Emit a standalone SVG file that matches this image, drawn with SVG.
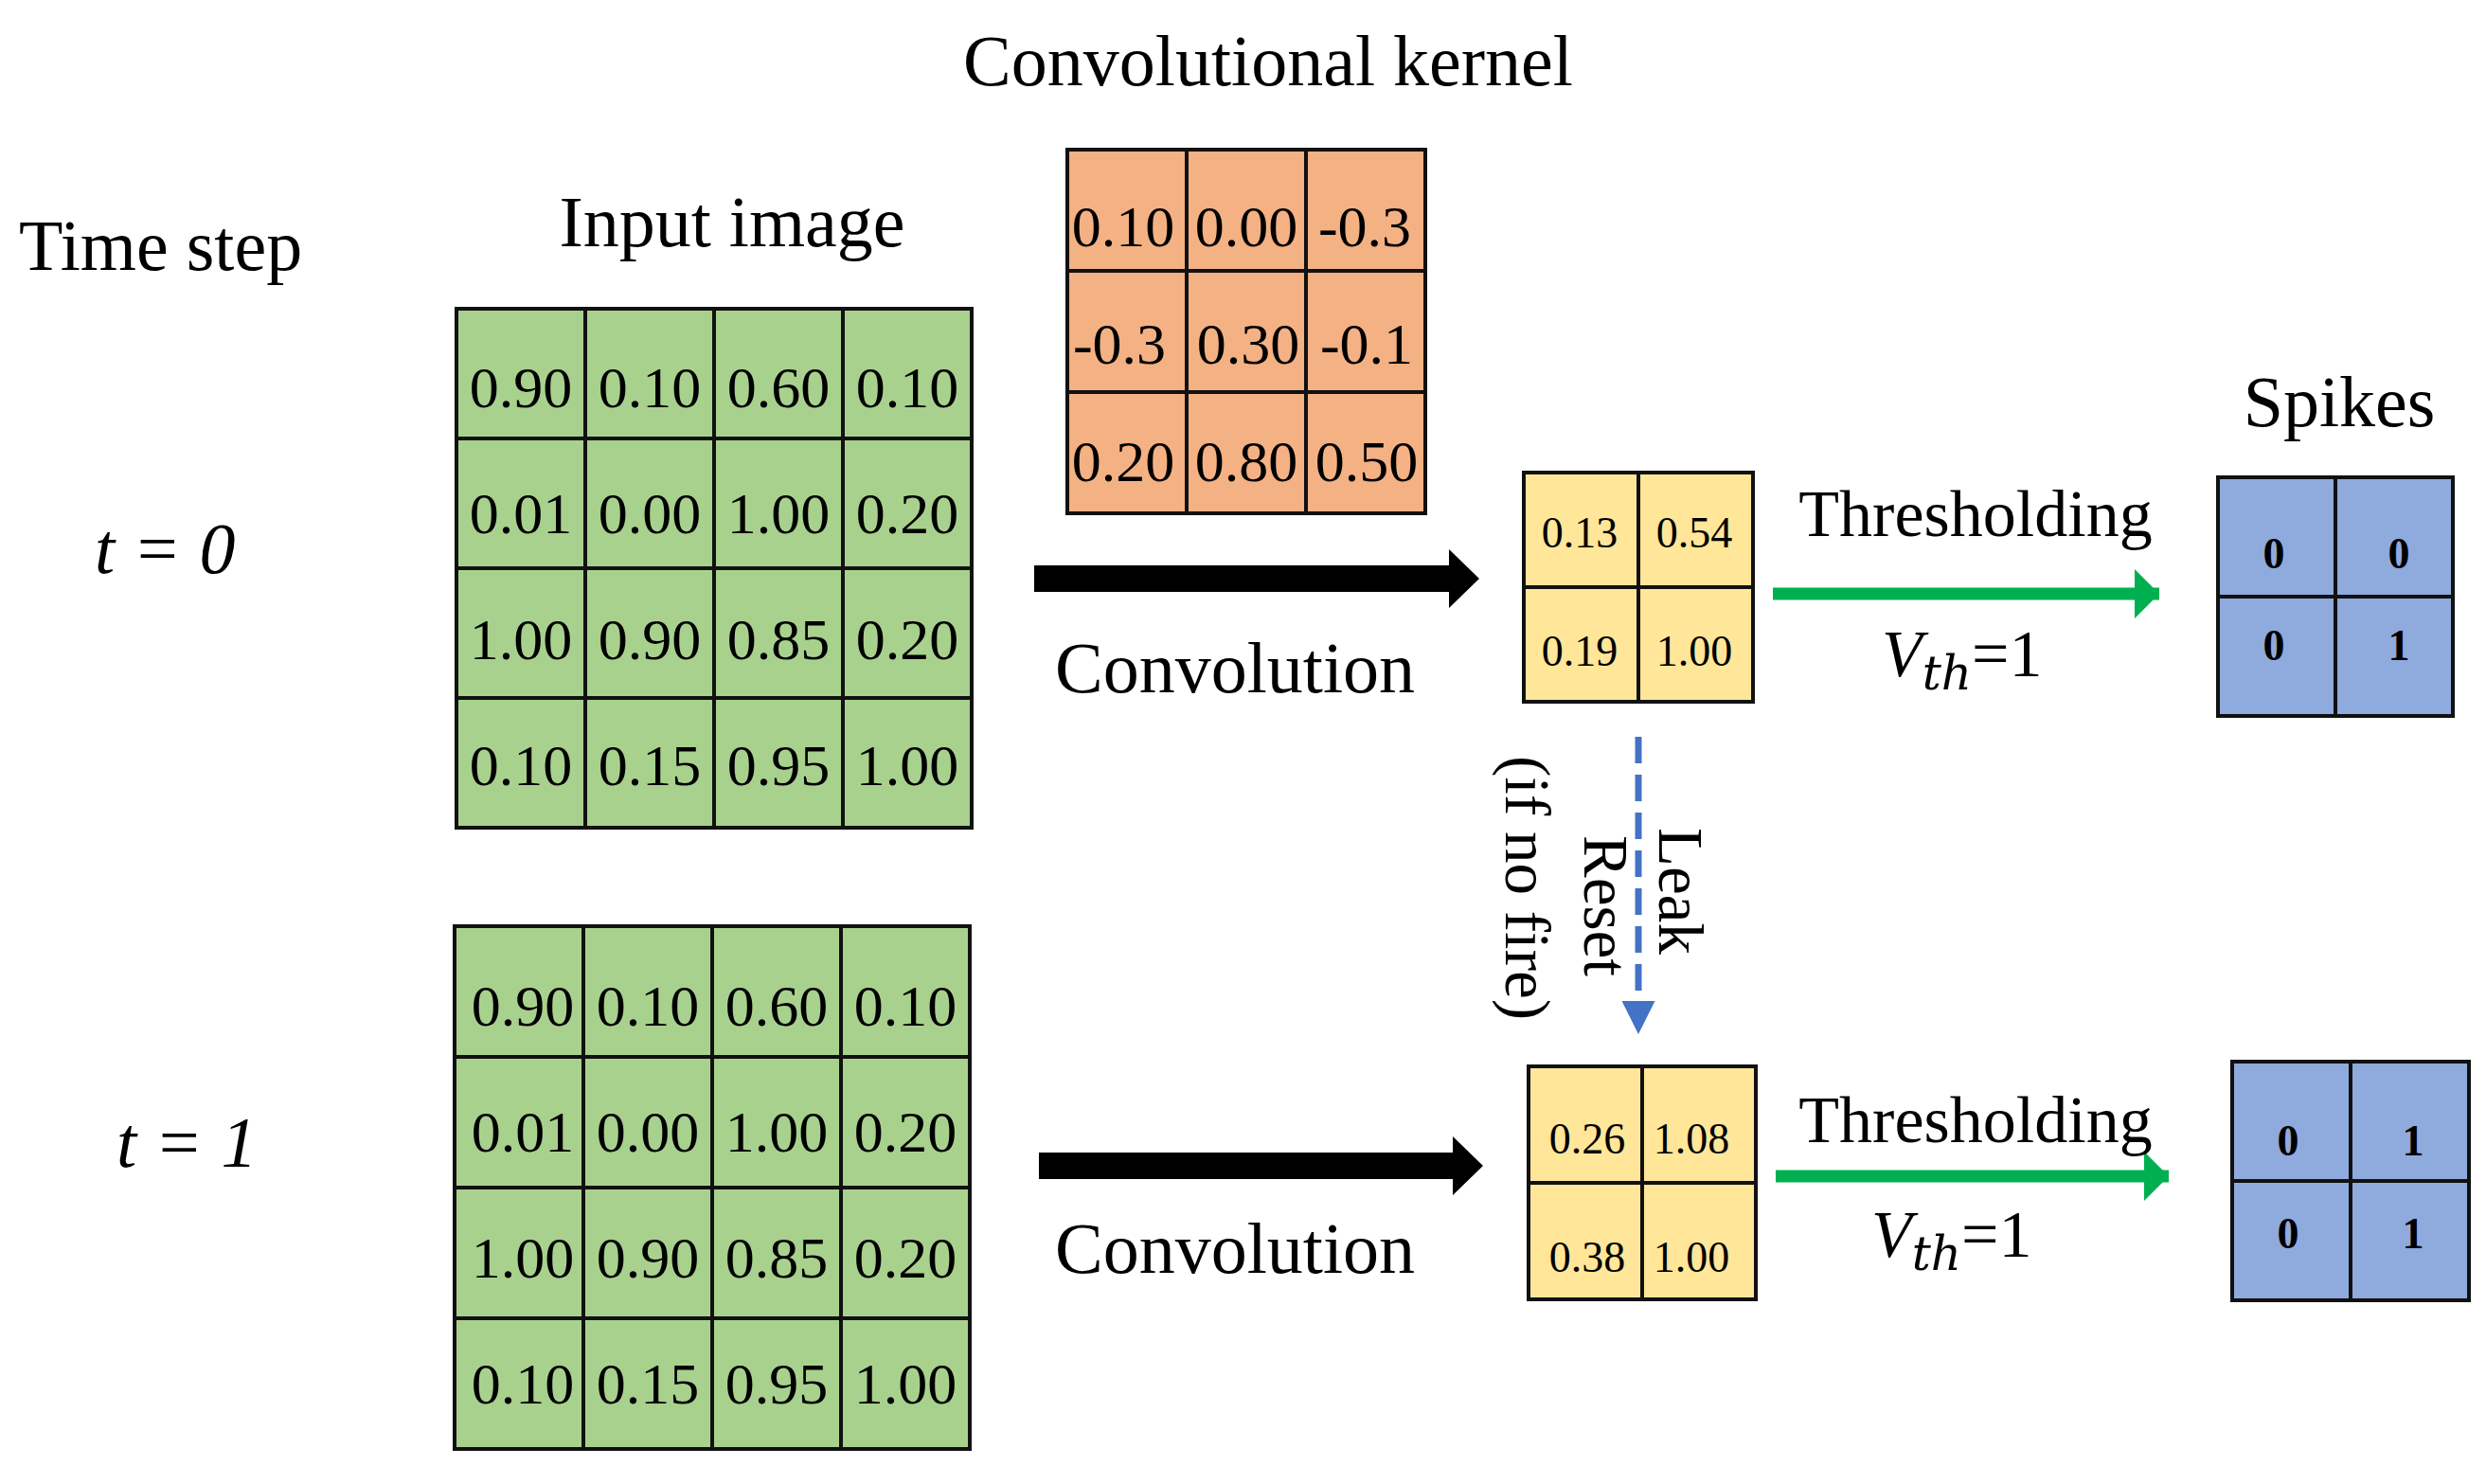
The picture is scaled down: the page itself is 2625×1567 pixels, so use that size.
<svg xmlns="http://www.w3.org/2000/svg" width="2625" height="1567" viewBox="0 0 2625 1567">
<style>
text{font-family:"Liberation Serif","Times New Roman",serif;fill:#000}
.g{fill:#a9d18e;stroke:#111;stroke-width:4}
.o{fill:#f4b183;stroke:#111;stroke-width:4}
.y{fill:#ffe699;stroke:#111;stroke-width:4}
.b{fill:#8faadc;stroke:#111;stroke-width:4}
.n{font-size:62px;text-anchor:middle}
.s{font-size:46px;text-anchor:middle}
.k{font-size:46px;text-anchor:middle;font-weight:bold}
.l{font-size:76px}
</style>
<defs>
<marker id="gh" markerWidth="4" markerHeight="4" refX="2" refY="2" orient="auto" markerUnits="strokeWidth"><path d="M0,0L2,2L0,4z" fill="#00b050"/></marker>
<marker id="bh" markerWidth="5" markerHeight="5" refX="4" refY="2.5" orient="auto" markerUnits="strokeWidth"><path d="M0,0L5,2.5L0,5z" fill="#4472c4"/></marker>
</defs>
<text class="l" x="20" y="285">Time step</text>
<text class="l" x="773" y="260" text-anchor="middle">Input   image</text>
<text class="l" x="1339" y="90" text-anchor="middle">Convolutional kernel</text>
<text class="l" x="2470" y="450" text-anchor="middle">Spikes</text>
<text class="l" x="100" y="605" font-style="italic">t = 0</text>
<text class="l" x="123" y="1232" font-style="italic">t = 1</text>
<g id="input0">
<rect class="g" x="482" y="326" width="136" height="137"/><rect class="g" x="618" y="326" width="136" height="137"/><rect class="g" x="754" y="326" width="136" height="137"/><rect class="g" x="890" y="326" width="136" height="137"/>
<rect class="g" x="482" y="463" width="136" height="137"/><rect class="g" x="618" y="463" width="136" height="137"/><rect class="g" x="754" y="463" width="136" height="137"/><rect class="g" x="890" y="463" width="136" height="137"/>
<rect class="g" x="482" y="600" width="136" height="137"/><rect class="g" x="618" y="600" width="136" height="137"/><rect class="g" x="754" y="600" width="136" height="137"/><rect class="g" x="890" y="600" width="136" height="137"/>
<rect class="g" x="482" y="737" width="136" height="137"/><rect class="g" x="618" y="737" width="136" height="137"/><rect class="g" x="754" y="737" width="136" height="137"/><rect class="g" x="890" y="737" width="136" height="137"/>
<text class="n" x="550" y="430">0.90</text><text class="n" x="686" y="430">0.10</text><text class="n" x="822" y="430">0.60</text><text class="n" x="958" y="430">0.10</text>
<text class="n" x="550" y="563">0.01</text><text class="n" x="686" y="563">0.00</text><text class="n" x="822" y="563">1.00</text><text class="n" x="958" y="563">0.20</text>
<text class="n" x="550" y="696">1.00</text><text class="n" x="686" y="696">0.90</text><text class="n" x="822" y="696">0.85</text><text class="n" x="958" y="696">0.20</text>
<text class="n" x="550" y="829">0.10</text><text class="n" x="686" y="829">0.15</text><text class="n" x="822" y="829">0.95</text><text class="n" x="958" y="829">1.00</text>
</g>
<g id="input1">
<rect class="g" x="480" y="978" width="136" height="138"/><rect class="g" x="616" y="978" width="136" height="138"/><rect class="g" x="752" y="978" width="136" height="138"/><rect class="g" x="888" y="978" width="136" height="138"/>
<rect class="g" x="480" y="1116" width="136" height="138"/><rect class="g" x="616" y="1116" width="136" height="138"/><rect class="g" x="752" y="1116" width="136" height="138"/><rect class="g" x="888" y="1116" width="136" height="138"/>
<rect class="g" x="480" y="1254" width="136" height="138"/><rect class="g" x="616" y="1254" width="136" height="138"/><rect class="g" x="752" y="1254" width="136" height="138"/><rect class="g" x="888" y="1254" width="136" height="138"/>
<rect class="g" x="480" y="1392" width="136" height="138"/><rect class="g" x="616" y="1392" width="136" height="138"/><rect class="g" x="752" y="1392" width="136" height="138"/><rect class="g" x="888" y="1392" width="136" height="138"/>
<text class="n" x="552" y="1083">0.90</text><text class="n" x="684" y="1083">0.10</text><text class="n" x="820" y="1083">0.60</text><text class="n" x="956" y="1083">0.10</text>
<text class="n" x="552" y="1216">0.01</text><text class="n" x="684" y="1216">0.00</text><text class="n" x="820" y="1216">1.00</text><text class="n" x="956" y="1216">0.20</text>
<text class="n" x="552" y="1349">1.00</text><text class="n" x="684" y="1349">0.90</text><text class="n" x="820" y="1349">0.85</text><text class="n" x="956" y="1349">0.20</text>
<text class="n" x="552" y="1482">0.10</text><text class="n" x="684" y="1482">0.15</text><text class="n" x="820" y="1482">0.95</text><text class="n" x="956" y="1482">1.00</text>
</g>
<g id="kernel">
<rect class="o" x="1127" y="158" width="126" height="128"/><rect class="o" x="1253" y="158" width="126" height="128"/><rect class="o" x="1379" y="158" width="126" height="128"/>
<rect class="o" x="1127" y="286" width="126" height="128"/><rect class="o" x="1253" y="286" width="126" height="128"/><rect class="o" x="1379" y="286" width="126" height="128"/>
<rect class="o" x="1127" y="414" width="126" height="128"/><rect class="o" x="1253" y="414" width="126" height="128"/><rect class="o" x="1379" y="414" width="126" height="128"/>
<text class="n" x="1186" y="260">0.10</text><text class="n" x="1316" y="260">0.00</text><text class="n" x="1441" y="260">-0.3</text>
<text class="n" x="1182" y="384">-0.3</text><text class="n" x="1318" y="384">0.30</text><text class="n" x="1443" y="384">-0.1</text>
<text class="n" x="1186" y="508">0.20</text><text class="n" x="1316" y="508">0.80</text><text class="n" x="1443" y="508">0.50</text>
</g>
<g id="mem0">
<rect class="y" x="1609" y="499" width="121" height="121"/><rect class="y" x="1730" y="499" width="121" height="121"/>
<rect class="y" x="1609" y="620" width="121" height="121"/><rect class="y" x="1730" y="620" width="121" height="121"/>
<text class="s" x="1668" y="578">0.13</text><text class="s" x="1789" y="578">0.54</text>
<text class="s" x="1668" y="703">0.19</text><text class="s" x="1789" y="703">1.00</text>
</g>
<g id="mem1">
<rect class="y" x="1614" y="1126" width="120" height="123"/><rect class="y" x="1734" y="1126" width="120" height="123"/>
<rect class="y" x="1614" y="1249" width="120" height="123"/><rect class="y" x="1734" y="1249" width="120" height="123"/>
<text class="s" x="1676" y="1218">0.26</text><text class="s" x="1786" y="1218">1.08</text>
<text class="s" x="1676" y="1343">0.38</text><text class="s" x="1786" y="1343">1.00</text>
</g>
<g id="spikes0">
<rect class="b" x="2342" y="504" width="124" height="126"/><rect class="b" x="2466" y="504" width="124" height="126"/>
<rect class="b" x="2342" y="630" width="124" height="126"/><rect class="b" x="2466" y="630" width="124" height="126"/>
<text class="k" x="2401" y="600">0</text><text class="k" x="2533" y="600">0</text>
<text class="k" x="2401" y="697">0</text><text class="k" x="2533" y="697">1</text>
</g>
<g id="spikes1">
<rect class="b" x="2357" y="1121" width="125" height="126"/><rect class="b" x="2482" y="1121" width="125" height="126"/>
<rect class="b" x="2357" y="1247" width="125" height="126"/><rect class="b" x="2482" y="1247" width="125" height="126"/>
<text class="k" x="2416" y="1220">0</text><text class="k" x="2548" y="1220">1</text>
<text class="k" x="2416" y="1318">0</text><text class="k" x="2548" y="1318">1</text>
</g>
<g id="connectors">
<path d="M1092,597H1530V580L1562,611L1530,642V625H1092z" fill="#000"/>
<path d="M1097,1217H1534V1200L1566,1231L1534,1262V1245H1097z" fill="#000"/>
<line x1="1872" y1="627" x2="2280" y2="627" stroke="#00b050" stroke-width="13" marker-end="url(#gh)"/>
<line x1="1875" y1="1242" x2="2290" y2="1242" stroke="#00b050" stroke-width="13" marker-end="url(#gh)"/>
<line x1="1730" y1="778" x2="1730" y2="1085" stroke="#4472c4" stroke-width="7" stroke-dasharray="28,12" marker-end="url(#bh)"/>
</g>
<text class="l" x="1114" y="731">Convolution</text>
<text class="l" x="1114" y="1344">Convolution</text>
<text x="2086" y="566" font-size="70" text-anchor="middle">Thresholding</text>
<text x="2086" y="1206" font-size="70" text-anchor="middle">Thresholding</text>
<text x="1987" y="714" font-size="70"><tspan font-style="italic">V</tspan><tspan font-style="italic" font-family="DejaVu Serif, serif" font-size="50" dy="14">th</tspan><tspan dy="-14">=1</tspan></text>
<text x="1976" y="1327" font-size="70"><tspan font-style="italic">V</tspan><tspan font-style="italic" font-family="DejaVu Serif, serif" font-size="50" dy="14">th</tspan><tspan dy="-14">=1</tspan></text>
<text x="0" y="0" font-size="67" transform="translate(1752,874) rotate(90)">Leak</text>
<text x="0" y="0" font-size="67" transform="translate(1673,882) rotate(90)">Reset</text>
<text x="0" y="0" font-size="67" transform="translate(1590,798) rotate(90)">(if no fire)</text>
</svg>
